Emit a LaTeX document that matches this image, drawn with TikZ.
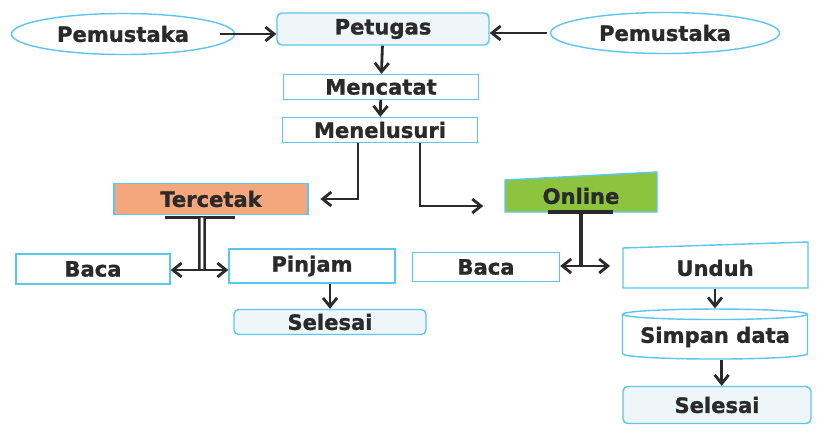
\documentclass[tikz,border=0pt]{standalone}
\usepackage{fontspec}
\setmainfont{DejaVu Sans}[BoldFeatures={FakeBold=1.2}]
\usetikzlibrary{shapes.geometric,arrows.meta}
\definecolor{edgeblue}{HTML}{5BC6EE}
\definecolor{paleblue}{HTML}{EEF6FA}
\definecolor{tcorange}{HTML}{F4A67C}
\definecolor{ongreen}{HTML}{8DC43F}
\definecolor{ink}{HTML}{2A2A2A}
\tikzset{
  box/.style={draw=edgeblue, line width=1.2pt, fill=white, inner sep=0pt, text=ink,
    font=\bfseries\fontsize{18}{20}\selectfont},
  rbox/.style={box, rounded corners=4pt, fill=paleblue},
  oval/.style={box, ellipse},
  drum/.style={box, cylinder, shape border rotate=90, aspect=0.07},
  arr/.style={draw=ink, line width=2.4pt, -{Straight Barb[length=2.6mm,width=4.2mm]}},
  twin/.style={draw=ink, line width=2.2pt},
  bar/.style={draw=ink, line width=2.6pt}
}
\begin{document}
\begin{tikzpicture}[x=0.03cm, y=-0.03cm]
  \useasboundingbox (0,0) rectangle (817,437);

  \node[oval, minimum width=6.69cm, minimum height=1.23cm] (pl) at (123,34) {Pemustaka};
  \node[rbox, minimum width=6.36cm, minimum height=0.96cm] (pt) at (383,29) {Petugas};
  \node[oval, minimum width=6.87cm, minimum height=1.23cm] (pr) at (665,33) {Pemustaka};
  \node[box, minimum width=5.85cm, minimum height=0.75cm] (mc) at (381,87) {Mencatat};
  \node[box, minimum width=5.85cm, minimum height=0.75cm] (ml) at (380,130) {Menelusuri};
  \node[box, fill=tcorange, minimum width=5.82cm, minimum height=0.93cm] (tc) at (211,199) {Tercetak};

  \path[box, fill=ongreen] (505,212) -- (505,180) -- (657,172) -- (657,212) -- cycle;
  \node[box, draw=none, fill=none, minimum width=4.56cm, minimum height=0.96cm] (on) at (581,196) {Online};

  \node[box, minimum width=4.62cm, minimum height=0.9cm] (bl) at (93,269) {Baca};
  \node[box, minimum width=4.98cm, minimum height=1.02cm] (pj) at (312,266) {Pinjam};
  \node[rbox, minimum width=5.76cm, minimum height=0.75cm] (sl) at (330,322) {Selesai};
  \node[box, minimum width=4.41cm, minimum height=0.87cm] (br) at (486,267) {Baca};

  \path[box] (623,288) -- (623,248) -- (808,242) -- (808,288) -- cycle;
  \node[box, draw=none, fill=none, minimum width=5.55cm, minimum height=1.2cm] (ud) at (715,268) {Unduh};
  \node[drum, minimum width=5.55cm, minimum height=1.5cm] (sd) at (715,337) {Simpan data};
  \node[rbox, minimum width=5.64cm, minimum height=1.11cm] (sr) at (717,405) {Selesai};

  \coordinate (tj) at (202,270);
  \coordinate (oj) at (581,266);

  \draw[arr, shorten <=-13] (pl.east) -- (pl.east -| pt.west);
  \draw[arr, shorten <=2] (pr.west) -- (pr.west -| pt.east);
  \draw[arr] (pt) -- (mc);
  \draw[arr] (mc) -- (ml);
  \draw[arr, shorten >=10] ([xshift=-0.66cm]ml.south) |- (tc.east);
  \draw[arr, shorten >=18] ([xshift=1.2cm]ml.south) |- ([yshift=-0.3cm]on.west);

  \draw[bar] ([xshift=-1.38cm, yshift=-2pt]tc.south) -- ([xshift=0.72cm, yshift=-2pt]tc.south);
  \draw[twin, double=white, double distance=2.2pt] ([xshift=-0.27cm, yshift=-2pt]tc.south) -- (tj);
  \draw[arr] (tj) -- (tj -| bl.east);
  \draw[arr] (tj) -- (tj -| pj.west);
  \draw[arr] (sl.north |- pj.south) -- (sl.north);

  \draw[bar] (548,212) -- (613,212);
  \draw[bar] (581,212) -- (oj);
  \draw[arr] (oj) -- (oj -| br.east);
  \draw[arr, shorten >=10] (oj) -- (oj -| ud.west);
  \draw[arr] (ud) -- (sd);
  \draw[arr] ([xshift=0.2cm]sd.bottom) -- ([xshift=0.2cm]sd.bottom |- sr.north);
\end{tikzpicture}
\end{document}
